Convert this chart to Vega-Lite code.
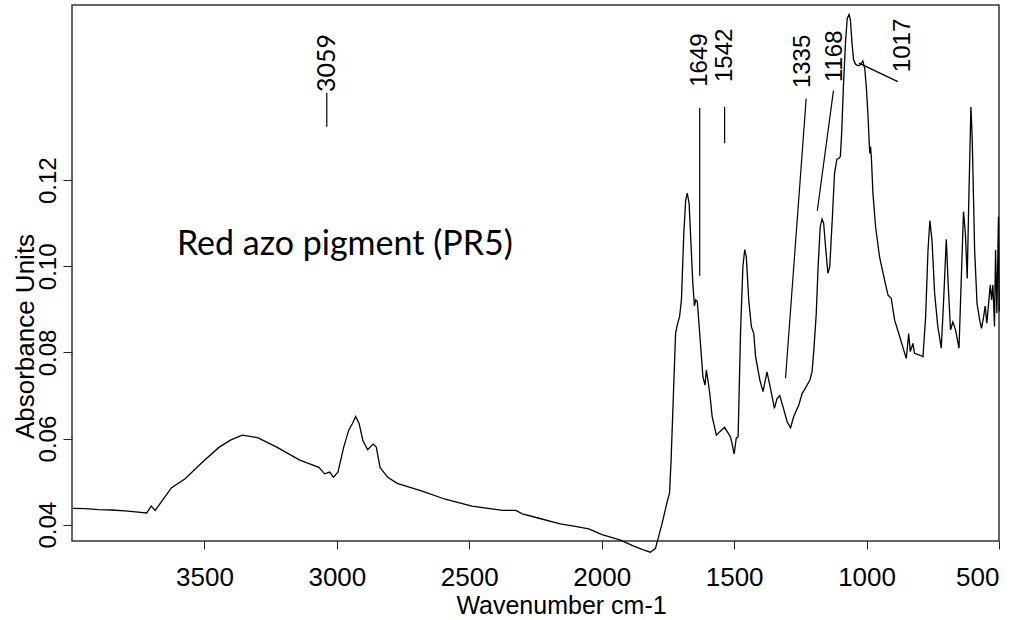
{
  "$schema": "https://vega.github.io/schema/vega-lite/v6.json",
  "width": 927,
  "height": 536,
  "autosize": {"type": "none"},
  "padding": {"left": 72, "top": 5, "right": 34, "bottom": 79},
  "background": "white",
  "config": {
    "view": {"stroke": "#333333", "strokeWidth": 1.5},
    "axis": {
      "domain": false,
      "grid": false,
      "ticks": true,
      "tickColor": "#222222",
      "tickWidth": 1,
      "labelFont": "Liberation Sans",
      "labelColor": "#000000",
      "titleFont": "Liberation Sans",
      "titleFontWeight": "normal",
      "titleColor": "#000000"
    }
  },
  "datasets": {
    "spectrum": [
      {"wn": 3996, "A": 0.0438}, {"wn": 3950, "A": 0.0437}, {"wn": 3900, "A": 0.0435},
      {"wn": 3850, "A": 0.0434}, {"wn": 3800, "A": 0.0432}, {"wn": 3750, "A": 0.0429},
      {"wn": 3718, "A": 0.0427}, {"wn": 3701, "A": 0.0443}, {"wn": 3686, "A": 0.0433},
      {"wn": 3660, "A": 0.0455}, {"wn": 3624, "A": 0.0486}, {"wn": 3574, "A": 0.0506},
      {"wn": 3501, "A": 0.0549}, {"wn": 3444, "A": 0.058}, {"wn": 3400, "A": 0.0597},
      {"wn": 3357, "A": 0.0608}, {"wn": 3299, "A": 0.0602}, {"wn": 3227, "A": 0.058},
      {"wn": 3140, "A": 0.055}, {"wn": 3068, "A": 0.0533}, {"wn": 3046, "A": 0.0518},
      {"wn": 3027, "A": 0.0522}, {"wn": 3013, "A": 0.051}, {"wn": 2996, "A": 0.0522},
      {"wn": 2974, "A": 0.058}, {"wn": 2955, "A": 0.062}, {"wn": 2941, "A": 0.0635},
      {"wn": 2929, "A": 0.0651}, {"wn": 2916, "A": 0.0635}, {"wn": 2902, "A": 0.0596},
      {"wn": 2884, "A": 0.0574}, {"wn": 2863, "A": 0.0587}, {"wn": 2851, "A": 0.058},
      {"wn": 2837, "A": 0.0533}, {"wn": 2808, "A": 0.051}, {"wn": 2772, "A": 0.0496},
      {"wn": 2678, "A": 0.0478}, {"wn": 2591, "A": 0.0459}, {"wn": 2490, "A": 0.0443},
      {"wn": 2374, "A": 0.0433}, {"wn": 2324, "A": 0.0433}, {"wn": 2300, "A": 0.0425},
      {"wn": 2244, "A": 0.0416}, {"wn": 2157, "A": 0.0402}, {"wn": 2100, "A": 0.0396},
      {"wn": 2049, "A": 0.039}, {"wn": 1999, "A": 0.0377}, {"wn": 1960, "A": 0.037},
      {"wn": 1929, "A": 0.0364}, {"wn": 1879, "A": 0.035}, {"wn": 1840, "A": 0.0341},
      {"wn": 1816, "A": 0.0336}, {"wn": 1797, "A": 0.0345}, {"wn": 1772, "A": 0.0403},
      {"wn": 1753, "A": 0.0453}, {"wn": 1744, "A": 0.0473}, {"wn": 1738, "A": 0.055},
      {"wn": 1730, "A": 0.069}, {"wn": 1721, "A": 0.0845}, {"wn": 1713, "A": 0.0868},
      {"wn": 1706, "A": 0.0883}, {"wn": 1699, "A": 0.0922}, {"wn": 1690, "A": 0.1077},
      {"wn": 1683, "A": 0.1154}, {"wn": 1677, "A": 0.117}, {"wn": 1670, "A": 0.1146},
      {"wn": 1663, "A": 0.1053}, {"wn": 1656, "A": 0.096}, {"wn": 1650, "A": 0.0908},
      {"wn": 1645, "A": 0.0922}, {"wn": 1639, "A": 0.0918}, {"wn": 1630, "A": 0.0844},
      {"wn": 1618, "A": 0.0744}, {"wn": 1610, "A": 0.0724}, {"wn": 1605, "A": 0.0759},
      {"wn": 1599, "A": 0.0736}, {"wn": 1592, "A": 0.0705}, {"wn": 1583, "A": 0.0651},
      {"wn": 1567, "A": 0.0608}, {"wn": 1554, "A": 0.0616}, {"wn": 1536, "A": 0.0626},
      {"wn": 1526, "A": 0.0616}, {"wn": 1514, "A": 0.0604}, {"wn": 1508, "A": 0.0589},
      {"wn": 1500, "A": 0.0564}, {"wn": 1492, "A": 0.0601}, {"wn": 1485, "A": 0.0604},
      {"wn": 1476, "A": 0.0844}, {"wn": 1467, "A": 0.0999}, {"wn": 1460, "A": 0.1039},
      {"wn": 1454, "A": 0.1022}, {"wn": 1445, "A": 0.0922}, {"wn": 1435, "A": 0.086},
      {"wn": 1426, "A": 0.0844}, {"wn": 1419, "A": 0.079}, {"wn": 1403, "A": 0.0736},
      {"wn": 1391, "A": 0.0709}, {"wn": 1376, "A": 0.0755}, {"wn": 1363, "A": 0.0717},
      {"wn": 1348, "A": 0.067}, {"wn": 1338, "A": 0.0693}, {"wn": 1328, "A": 0.07},
      {"wn": 1315, "A": 0.0673}, {"wn": 1300, "A": 0.0639}, {"wn": 1287, "A": 0.0625},
      {"wn": 1275, "A": 0.0651}, {"wn": 1256, "A": 0.0678}, {"wn": 1243, "A": 0.0705},
      {"wn": 1231, "A": 0.0717}, {"wn": 1214, "A": 0.0736}, {"wn": 1206, "A": 0.0755},
      {"wn": 1199, "A": 0.0806}, {"wn": 1190, "A": 0.089}, {"wn": 1183, "A": 0.0999},
      {"wn": 1175, "A": 0.1092}, {"wn": 1168, "A": 0.111}, {"wn": 1162, "A": 0.11},
      {"wn": 1155, "A": 0.1046}, {"wn": 1146, "A": 0.0984}, {"wn": 1139, "A": 0.0999},
      {"wn": 1129, "A": 0.1115}, {"wn": 1121, "A": 0.1216}, {"wn": 1112, "A": 0.1249},
      {"wn": 1104, "A": 0.1251}, {"wn": 1099, "A": 0.1255}, {"wn": 1094, "A": 0.131},
      {"wn": 1087, "A": 0.1425}, {"wn": 1079, "A": 0.1526}, {"wn": 1073, "A": 0.1576},
      {"wn": 1066, "A": 0.1585}, {"wn": 1061, "A": 0.1572}, {"wn": 1055, "A": 0.1518},
      {"wn": 1049, "A": 0.1479}, {"wn": 1041, "A": 0.1469}, {"wn": 1032, "A": 0.1466},
      {"wn": 1024, "A": 0.1468}, {"wn": 1014, "A": 0.1477}, {"wn": 1007, "A": 0.146},
      {"wn": 1001, "A": 0.1417}, {"wn": 995, "A": 0.1355}, {"wn": 988, "A": 0.1262},
      {"wn": 985, "A": 0.1278}, {"wn": 982, "A": 0.1255}, {"wn": 976, "A": 0.117},
      {"wn": 966, "A": 0.1092}, {"wn": 951, "A": 0.1022}, {"wn": 932, "A": 0.0968},
      {"wn": 919, "A": 0.0933}, {"wn": 907, "A": 0.0926}, {"wn": 894, "A": 0.0875},
      {"wn": 875, "A": 0.0837}, {"wn": 860, "A": 0.0806}, {"wn": 850, "A": 0.0786},
      {"wn": 841, "A": 0.0844}, {"wn": 835, "A": 0.0802}, {"wn": 825, "A": 0.0821},
      {"wn": 819, "A": 0.0798}, {"wn": 800, "A": 0.0794}, {"wn": 787, "A": 0.079},
      {"wn": 777, "A": 0.0883}, {"wn": 768, "A": 0.1038}, {"wn": 761, "A": 0.1106},
      {"wn": 753, "A": 0.1061}, {"wn": 743, "A": 0.0937}, {"wn": 731, "A": 0.086},
      {"wn": 718, "A": 0.081}, {"wn": 709, "A": 0.0922}, {"wn": 699, "A": 0.1063},
      {"wn": 692, "A": 0.096}, {"wn": 683, "A": 0.0852}, {"wn": 674, "A": 0.0871},
      {"wn": 664, "A": 0.0852}, {"wn": 651, "A": 0.081}, {"wn": 643, "A": 0.096},
      {"wn": 634, "A": 0.1127}, {"wn": 627, "A": 0.1077}, {"wn": 620, "A": 0.0972},
      {"wn": 614, "A": 0.1154}, {"wn": 606, "A": 0.137}, {"wn": 601, "A": 0.1294},
      {"wn": 592, "A": 0.1038}, {"wn": 583, "A": 0.0914}, {"wn": 573, "A": 0.0875},
      {"wn": 566, "A": 0.0856}, {"wn": 558, "A": 0.0883}, {"wn": 552, "A": 0.0908},
      {"wn": 546, "A": 0.0868}, {"wn": 538, "A": 0.0922}, {"wn": 533, "A": 0.0957},
      {"wn": 528, "A": 0.0922}, {"wn": 523, "A": 0.0957}, {"wn": 517, "A": 0.086},
      {"wn": 513, "A": 0.1038}, {"wn": 508, "A": 0.0891}, {"wn": 502, "A": 0.1115},
      {"wn": 499, "A": 0.0895}
    ],
    "leaders": [
      {"label": "3059", "x1": 3038, "y1": 0.1403, "x2": 3038, "y2": 0.1324},
      {"label": "1649", "x1": 1630, "y1": 0.1368, "x2": 1630, "y2": 0.0978},
      {"label": "1542", "x1": 1536, "y1": 0.137, "x2": 1536, "y2": 0.1286},
      {"label": "1335", "x1": 1228, "y1": 0.139, "x2": 1306, "y2": 0.074},
      {"label": "1168", "x1": 1125, "y1": 0.1408, "x2": 1186, "y2": 0.1129},
      {"label": "1017", "x1": 882, "y1": 0.1429, "x2": 1029, "y2": 0.1472}
    ],
    "labelsArial": [
      {"label": "1649", "wn": 1628, "A": 0.1417},
      {"label": "1542", "wn": 1536, "A": 0.1428},
      {"label": "1335", "wn": 1240, "A": 0.1414},
      {"label": "1168", "wn": 1121, "A": 0.1428},
      {"label": "1017", "wn": 863, "A": 0.1451}
    ],
    "labelsCal": [
      {"label": "3059", "wn": 3038, "A": 0.1405}
    ],
    "caption": [
      {"label": "Red azo pigment (PR5)", "wn": 3604, "A": 0.1026}
    ]
  },
  "layer": [
    {
      "data": {"name": "spectrum"},
      "mark": {"type": "line", "color": "#000000", "strokeWidth": 1.3, "clip": false, "interpolate": "linear"},
      "encoding": {
        "x": {
          "field": "wn", "type": "quantitative",
          "scale": {"domain": [500, 4000], "reverse": true, "nice": false, "zero": false},
          "axis": {
            "title": "Wavenumber cm-1",
            "values": [3500, 3000, 2500, 2000, 1500, 1000, 500],
            "format": "d",
            "tickSize": 8,
            "labelFontSize": 26,
            "labelPadding": 15,
            "labelBaseline": "top",
            "titleFontSize": 25,
            "titleBaseline": "alphabetic",
            "titleAlign": "center",
            "titleX": 489,
            "titleY": 72
          }
        },
        "y": {
          "field": "A", "type": "quantitative",
          "scale": {"domain": [0.0362, 0.1607], "nice": false, "zero": false},
          "axis": {
            "title": "Absorbance Units",
            "values": [0.04, 0.06, 0.08, 0.1, 0.12],
            "format": ".2f",
            "tickSize": 9,
            "labelFontSize": 24,
            "labelAngle": 270,
            "labelAlign": "center",
            "labelBaseline": "alphabetic",
            "labelPadding": 8,
            "titleFontSize": 26,
            "titleAngle": 270,
            "titleAlign": "center",
            "titleBaseline": "alphabetic",
            "titleX": -39,
            "titleY": 331
          }
        },
        "order": {"field": "wn", "type": "quantitative", "sort": "descending"}
      }
    },
    {
      "data": {"name": "leaders"},
      "mark": {"type": "rule", "color": "#000000", "strokeWidth": 1.2, "clip": false},
      "encoding": {
        "x": {"field": "x1", "type": "quantitative"},
        "x2": {"field": "x2"},
        "y": {"field": "y1", "type": "quantitative"},
        "y2": {"field": "y2"}
      }
    },
    {
      "data": {"name": "labelsArial"},
      "mark": {"type": "text", "angle": 270, "align": "left", "baseline": "middle", "font": "Liberation Sans", "fontSize": 24, "color": "#000000"},
      "encoding": {
        "x": {"field": "wn", "type": "quantitative"},
        "y": {"field": "A", "type": "quantitative"},
        "text": {"field": "label"}
      }
    },
    {
      "data": {"name": "labelsCal"},
      "mark": {"type": "text", "angle": 270, "align": "left", "baseline": "middle", "font": "Lato", "fontSize": 25, "color": "#000000"},
      "encoding": {
        "x": {"field": "wn", "type": "quantitative"},
        "y": {"field": "A", "type": "quantitative"},
        "text": {"field": "label"}
      }
    },
    {
      "data": {"name": "caption"},
      "mark": {"type": "text", "align": "left", "baseline": "alphabetic", "font": "Lato", "fontSize": 34, "color": "#000000"},
      "encoding": {
        "x": {"field": "wn", "type": "quantitative"},
        "y": {"field": "A", "type": "quantitative"},
        "text": {"field": "label"}
      }
    }
  ]
}
